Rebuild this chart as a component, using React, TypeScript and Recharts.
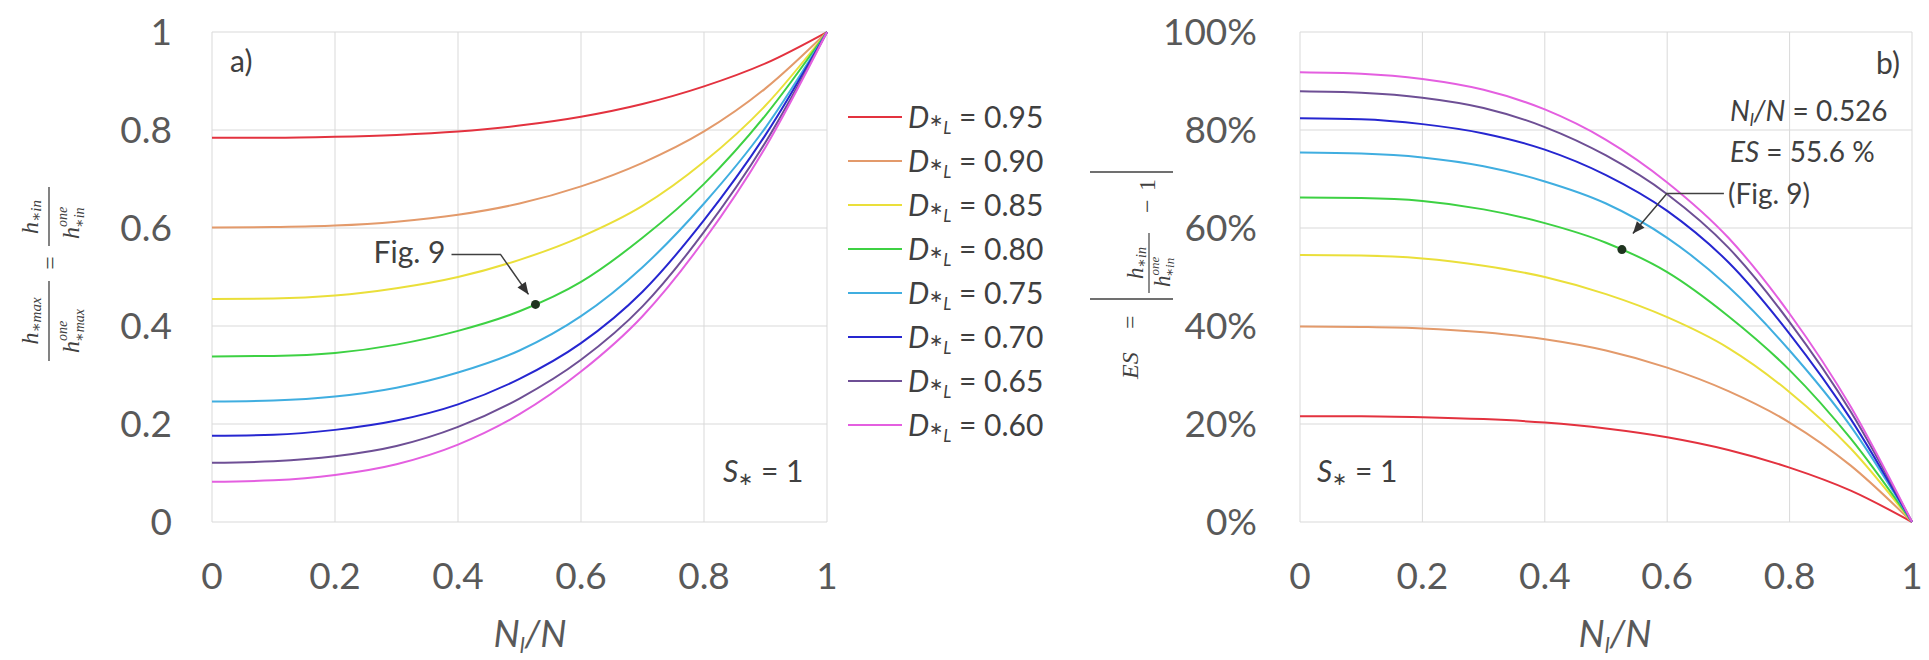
import React from "react";
import {
  CartesianGrid,
  Legend,
  Line,
  LineChart,
  ReferenceDot,
  XAxis,
  YAxis,
} from "recharts";

// N_l/N sample positions
const xs = [0, 0.1, 0.2, 0.3, 0.4, 0.5, 0.6, 0.7, 0.8, 0.9, 1];

// panel a) h*max / h*max^one
const hD95 = [0.784, 0.784, 0.786, 0.79, 0.797, 0.809, 0.827, 0.853, 0.889, 0.936, 1];
const hD90 = [0.601, 0.602, 0.605, 0.613, 0.627, 0.65, 0.685, 0.733, 0.797, 0.885, 1];
const hD85 = [0.455, 0.456, 0.462, 0.477, 0.5, 0.535, 0.582, 0.645, 0.735, 0.85, 1];
const hD80 = [0.338, 0.339, 0.345, 0.362, 0.39, 0.43, 0.49, 0.58, 0.69, 0.83, 1];
const hD75 = [0.246, 0.248, 0.256, 0.274, 0.305, 0.35, 0.42, 0.52, 0.65, 0.805, 1];
const hD70 = [0.176, 0.178, 0.188, 0.207, 0.24, 0.292, 0.365, 0.47, 0.616, 0.79, 1];
const hD65 = [0.121, 0.124, 0.134, 0.155, 0.194, 0.252, 0.331, 0.44, 0.592, 0.775, 1];
const hD60 = [0.082, 0.085, 0.096, 0.118, 0.158, 0.22, 0.307, 0.42, 0.575, 0.765, 1];

// panel b) ES in %
const esD95 = [21.6, 21.6, 21.4, 21.0, 20.3, 19.1, 17.3, 14.7, 11.1, 6.4, 0];
const esD90 = [39.9, 39.8, 39.5, 38.7, 37.3, 35.0, 31.5, 26.7, 20.3, 11.5, 0];
const esD85 = [54.5, 54.4, 53.8, 52.3, 50.0, 46.5, 41.8, 35.5, 26.5, 15.0, 0];
const esD80 = [66.2, 66.1, 65.5, 63.8, 61.0, 57.0, 51.0, 42.0, 31.0, 17.0, 0];
const esD75 = [75.4, 75.2, 74.4, 72.6, 69.5, 65.0, 58.0, 48.0, 35.0, 19.5, 0];
const esD70 = [82.4, 82.2, 81.2, 79.3, 76.0, 70.8, 63.5, 53.0, 38.4, 21.0, 0];
const esD65 = [87.9, 87.6, 86.6, 84.5, 80.6, 74.8, 66.9, 56.0, 40.8, 22.5, 0];
const esD60 = [91.8, 91.5, 90.4, 88.2, 84.2, 78.0, 69.3, 58.0, 42.5, 23.5, 0];

const seriesKeys = ["d95", "d90", "d85", "d80", "d75", "d70", "d65", "d60"];
const seriesNames = ["0.95", "0.90", "0.85", "0.80", "0.75", "0.70", "0.65", "0.60"];
const seriesColors = [
  "#e3323f",
  "#e39a6b",
  "#eadf3a",
  "#3dd143",
  "#40aee0",
  "#2626d0",
  "#6e4f95",
  "#e45fe0",
];

const xTicks = [0, 0.2, 0.4, 0.6, 0.8, 1];
const hTicks = [0, 0.2, 0.4, 0.6, 0.8, 1];
const esTicks = [0, 20, 40, 60, 80, 100];

// Fig. 9 marker
const fig9X = 0.526;
const fig9H = 0.444;
const fig9ES = 55.6;

const hSeries = [hD95, hD90, hD85, hD80, hD75, hD70, hD65, hD60];
const esSeries = [esD95, esD90, esD85, esD80, esD75, esD70, esD65, esD60];

const buildRows = (series: number[][]) =>
  xs.map((x, i) => {
    const row: Record<string, number> = { x };
    seriesKeys.forEach((k, j) => {
      row[k] = series[j][i];
    });
    return row;
  });

const hRows = buildRows(hSeries);
const esRows = buildRows(esSeries);

const FONT = "Lato, 'Open Sans', sans-serif";
const MATH = "'Liberation Serif', 'DejaVu Serif', serif";
const TICK = "#595959";
const TEXT = "#404040";
const GRID = "#d9d9d9";

const tickStyle = { fill: TICK, fontSize: 37, fontFamily: FONT };

const arrowHead = (tx: number, ty: number, fx: number, fy: number) => {
  const dx = tx - fx;
  const dy = ty - fy;
  const len = Math.sqrt(dx * dx + dy * dy);
  const ux = dx / len;
  const uy = dy / len;
  const bx = tx - ux * 12;
  const by = ty - uy * 12;
  const px = -uy * 5;
  const py = ux * 5;
  return `${tx},${ty} ${bx + px},${by + py} ${bx - px},${by - py}`;
};

const Fig9Left = (props: any) => {
  const { cx, cy } = props;
  if (cx == null || cy == null) return null;
  const ex = cx - 35;
  const ey = cy - 50;
  const tx = cx - 7;
  const ty = cy - 10;
  return (
    <g>
      <text x={cx - 90} y={cy - 41} textAnchor="end" fontFamily={FONT} fontSize={30} fill={TEXT}>
        Fig. 9
      </text>
      <polyline
        points={`${cx - 84},${ey} ${ex},${ey} ${tx},${ty}`}
        fill="none"
        stroke={TEXT}
        strokeWidth={1.5}
      />
      <polygon points={arrowHead(tx, ty, ex, ey)} fill="#333" />
      <circle cx={cx} cy={cy} r={4.5} fill="#1f331f" />
    </g>
  );
};

const Fig9Right = (props: any) => {
  const { cx, cy } = props;
  if (cx == null || cy == null) return null;
  const ex = cx + 45;
  const ey = cy - 56;
  const tx = cx + 11;
  const ty = cy - 16;
  return (
    <g fontFamily={FONT} fill={TEXT}>
      <text x={cx + 108} y={cy - 129} fontSize={28}>
        <tspan fontStyle="italic">N</tspan>
        <tspan fontSize={18} dy={5} fontStyle="italic">l</tspan>
        <tspan dy={-5} fontStyle="italic">/N</tspan>
        <tspan> = {fig9X}</tspan>
      </text>
      <text x={cx + 108} y={cy - 88} fontSize={28}>
        <tspan fontStyle="italic">ES</tspan>
        <tspan> = {fig9ES} %</tspan>
      </text>
      <text x={cx + 106} y={cy - 46} fontSize={28}>
        (Fig. 9)
      </text>
      <polyline
        points={`${cx + 102},${ey} ${ex},${ey} ${tx},${ty}`}
        fill="none"
        stroke={TEXT}
        strokeWidth={1.5}
      />
      <polygon points={arrowHead(tx, ty, ex, ey)} fill="#333" />
      <circle cx={cx} cy={cy} r={4.5} fill="#1f331f" />
    </g>
  );
};

const LegendBox = () => (
  <svg width={220} height={360}>
    {seriesNames.map((name, i) => {
      const y = 22 + i * 44;
      return (
        <g key={name}>
          <line x1={2} x2={56} y1={y} y2={y} stroke={seriesColors[i]} strokeWidth={2} />
          <text x={62} y={y + 11} fontFamily={FONT} fontSize={30} fill={TEXT}>
            <tspan fontStyle="italic">D</tspan>
            <tspan fontSize={17} dy={-2}>∗</tspan>
            <tspan fontSize={17} dy={8} fontStyle="italic">L</tspan>
            <tspan dy={-6}> = {name}</tspan>
          </text>
        </g>
      );
    })}
  </svg>
);

const AxisTitleX = ({ x }: { x: number }) => (
  <text x={x} y={647} textAnchor="middle" fontFamily={FONT} fontSize={37} fill={TICK}>
    <tspan fontStyle="italic">N</tspan>
    <tspan fontSize={22} dy={6} fontStyle="italic">l</tspan>
    <tspan dy={-6} fontStyle="italic">/N</tspan>
  </text>
);

const Overlay = () => (
  <svg
    width={1929}
    height={660}
    style={{ position: "absolute", left: 0, top: 0, pointerEvents: "none" }}
  >
    {/* panel labels */}
    <text x={230} y={72} fontFamily={FONT} fontSize={30} fill={TEXT}>
      a)
    </text>
    <text x={1900} y={74} textAnchor="end" fontFamily={FONT} fontSize={30} fill={TEXT}>
      b)
    </text>

    {/* S* = 1 */}
    {[723, 1317].map((sx) => (
      <text key={sx} x={sx} y={482} fontFamily={FONT} fontSize={30} fill={TEXT}>
        <tspan fontStyle="italic">S</tspan>
        <tspan fontSize={18} dy={3}>∗</tspan>
        <tspan dy={-3}> = 1</tspan>
      </text>
    ))}

    <AxisTitleX x={530} />
    <AxisTitleX x={1615} />

    {/* left y title: h*max/h*max^one = h*in/h*in^one */}
    <g transform="translate(52,273) rotate(-90)" fontFamily={MATH} fill={TEXT} fontStyle="italic">
      <text x={-48} y={-14} textAnchor="middle" fontSize={24}>
        h<tspan fontSize={15} dy={3}>∗max</tspan>
      </text>
      <line x1={-88} x2={-8} y1={-3} y2={-3} stroke={TEXT} strokeWidth={1.3} />
      <text x={-80} y={27} fontSize={24}>
        h<tspan fontSize={14} dy={-12}>one</tspan>
        <tspan fontSize={14} dx={-21} dy={17}>∗max</tspan>
      </text>
      <text x={10} y={6} textAnchor="middle" fontSize={24} fontStyle="normal">
        =
      </text>
      <text x={56} y={-14} textAnchor="middle" fontSize={24}>
        h<tspan fontSize={15} dy={3}>∗in</tspan>
      </text>
      <line x1={27} x2={86} y1={-3} y2={-3} stroke={TEXT} strokeWidth={1.3} />
      <text x={34} y={27} fontSize={24}>
        h<tspan fontSize={14} dy={-12}>one</tspan>
        <tspan fontSize={14} dx={-21} dy={17}>∗in</tspan>
      </text>
    </g>

    {/* right y title: ES = |h*in/h*in^one - 1| */}
    <g transform="translate(1132,275) rotate(-90)" fontFamily={MATH} fill={TEXT}>
      <text x={-104} y={6} fontSize={24} fontStyle="italic">
        ES
      </text>
      <text x={-54} y={6} fontSize={24}>
        =
      </text>
      <line x1={-24} x2={-24} y1={-42} y2={41} stroke={TEXT} strokeWidth={1.5} />
      <text x={12} y={11} textAnchor="middle" fontSize={23} fontStyle="italic">
        h<tspan fontSize={14} dy={3}>∗in</tspan>
      </text>
      <line x1={-18} x2={42} y1={17} y2={17} stroke={TEXT} strokeWidth={1.2} />
      <text x={-12} y={38} fontSize={23} fontStyle="italic">
        h<tspan fontSize={13} dy={-11}>one</tspan>
        <tspan fontSize={13} dx={-20} dy={15}>∗in</tspan>
      </text>
      <text x={62} y={23} fontSize={24}>
        −
      </text>
      <text x={84} y={23} fontSize={24}>
        1
      </text>
      <line x1={103} x2={103} y1={-42} y2={41} stroke={TEXT} strokeWidth={1.5} />
    </g>
  </svg>
);

export default function App() {
  return (
    <div
      style={{
        position: "absolute",
        left: 0,
        top: 0,
        width: 1929,
        height: 660,
        background: "#fff",
        fontFamily: FONT,
      }}
    >
      <div style={{ position: "absolute", left: 0, top: 0 }}>
        <LineChart
          width={1080}
          height={660}
          data={hRows}
          margin={{ top: 32, right: 253, bottom: 0, left: 0 }}
        >
          <CartesianGrid stroke={GRID} strokeWidth={1} />
          <XAxis
            dataKey="x"
            type="number"
            domain={[0, 1]}
            ticks={xTicks}
            height={138}
            tickLine={false}
            axisLine={false}
            tickSize={0}
            tickMargin={41}
            tick={tickStyle}
            interval={0}
          />
          <YAxis
            type="number"
            domain={[0, 1]}
            ticks={hTicks}
            width={212}
            tickLine={false}
            axisLine={false}
            tickSize={0}
            tickMargin={40}
            tick={tickStyle}
            interval={0}
          />
          <Legend
            layout="horizontal"
            verticalAlign="middle"
            align="center"
            content={<LegendBox />}
            wrapperStyle={{ position: "absolute", left: 846, top: 95, width: 220, height: 360 }}
          />
          {seriesKeys.map((k, i) => (
            <Line
              key={k}
              type="monotone"
              dataKey={k}
              name={seriesNames[i]}
              stroke={seriesColors[i]}
              strokeWidth={2}
              dot={false}
              activeDot={false}
              isAnimationActive={false}
            />
          ))}
          <ReferenceDot x={fig9X} y={fig9H} r={4.5} shape={(p: any) => <Fig9Left {...p} />} />
        </LineChart>
      </div>

      <div style={{ position: "absolute", left: 1080, top: 0 }}>
        <LineChart
          width={849}
          height={660}
          data={esRows}
          margin={{ top: 32, right: 17, bottom: 0, left: 0 }}
        >
          <CartesianGrid stroke={GRID} strokeWidth={1} />
          <XAxis
            dataKey="x"
            type="number"
            domain={[0, 1]}
            ticks={xTicks}
            height={138}
            tickLine={false}
            axisLine={false}
            tickSize={0}
            tickMargin={41}
            tick={tickStyle}
            interval={0}
          />
          <YAxis
            type="number"
            domain={[0, 100]}
            ticks={esTicks}
            width={220}
            tickLine={false}
            axisLine={false}
            tickSize={0}
            tickMargin={43}
            tick={tickStyle}
            tickFormatter={(v: number) => `${v}%`}
            interval={0}
          />
          {seriesKeys.map((k, i) => (
            <Line
              key={k}
              type="monotone"
              dataKey={k}
              name={seriesNames[i]}
              stroke={seriesColors[i]}
              strokeWidth={2}
              dot={false}
              activeDot={false}
              isAnimationActive={false}
            />
          ))}
          <ReferenceDot x={fig9X} y={fig9ES} r={4.5} shape={(p: any) => <Fig9Right {...p} />} />
        </LineChart>
      </div>

      <Overlay />
    </div>
  );
}
